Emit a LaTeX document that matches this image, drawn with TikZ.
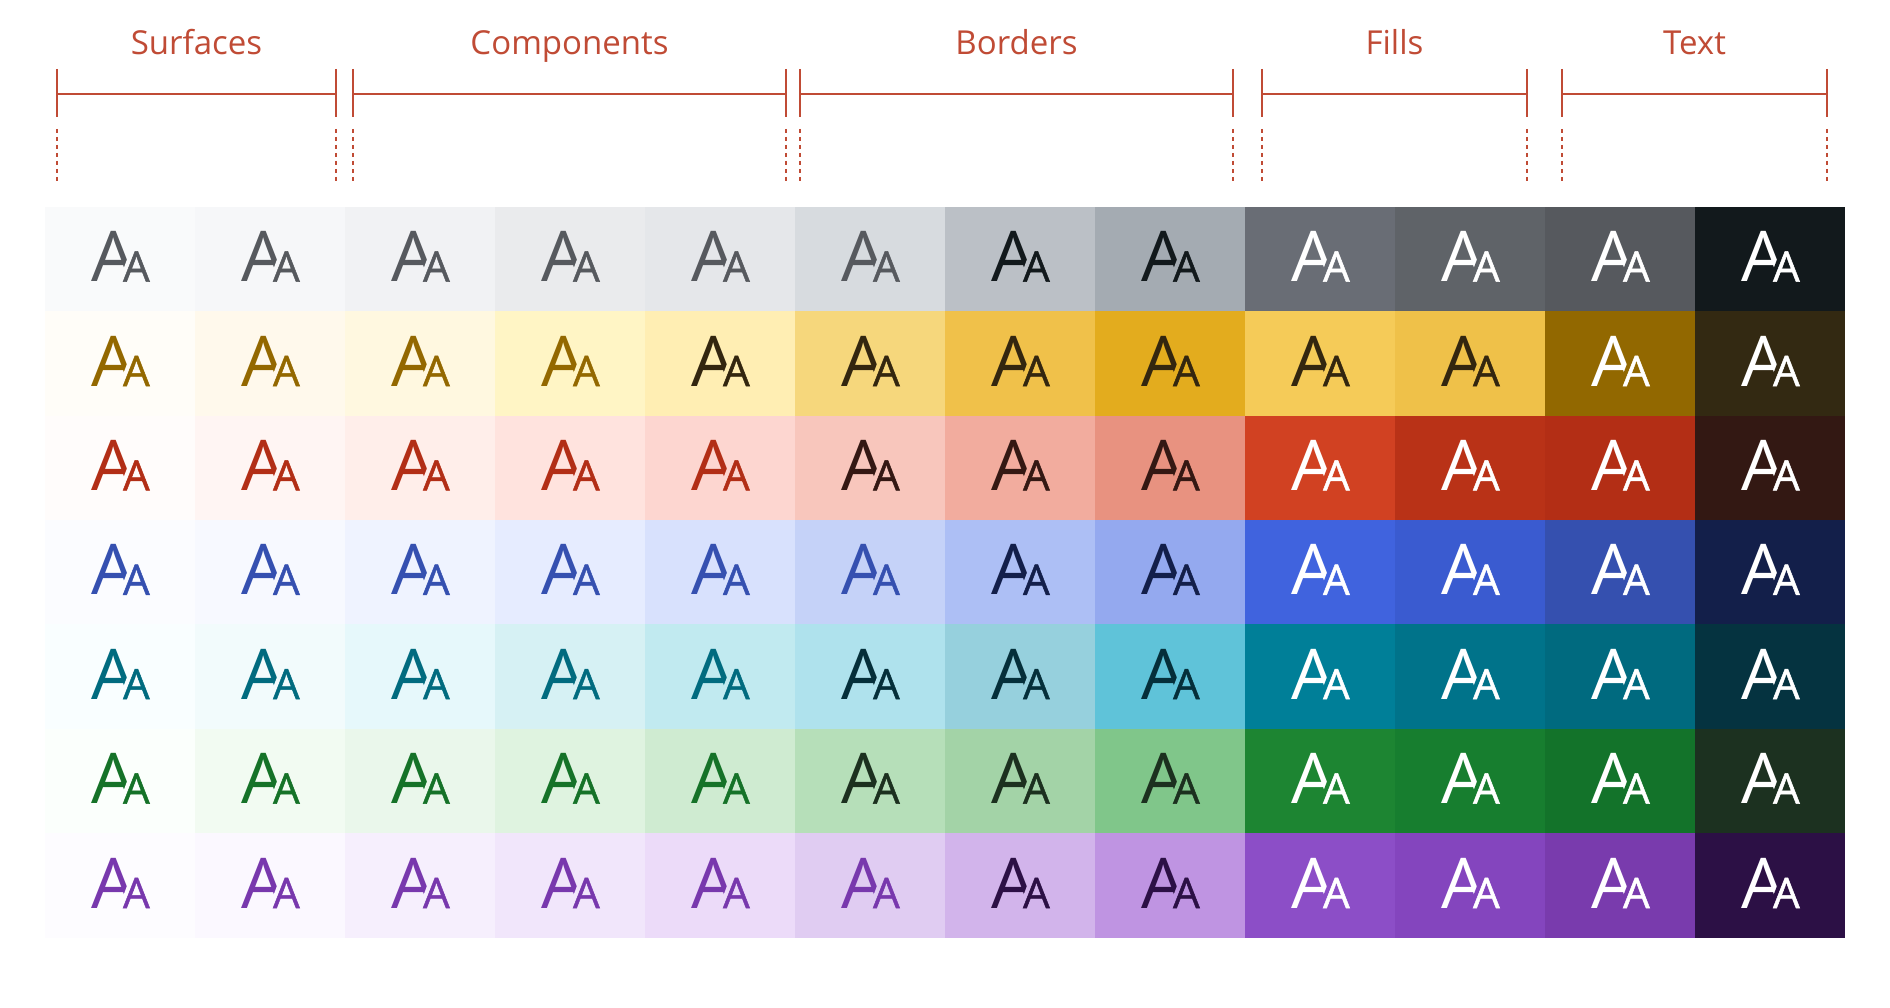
\documentclass[tikz,border=0pt]{standalone}
\usepackage{fontspec}
\setmainfont{Open Sans}
\newfontfamily\smallAfam[FakeBold=1.2]{Open Sans}
\usetikzlibrary{calc}
\newcommand\glyphbig{\fontsize{70}{70}\selectfont}
\newcommand\glyphsmall{\smallAfam\fontsize{42}{42}\selectfont}
\newcommand\labfont{\fontsize{33}{33}\selectfont}
% knock-out behind the small letter (drawn at the current text position)
\newcommand\knockout[1]{\tikz[overlay,baseline=0pt,x=1pt,y=1pt]\fill[#1] (-5.6,-3) -- (8.4,34) -- (35,34) -- (35,-3) -- cycle;}
\definecolor{lab}{HTML}{C04B35}
% row 1 gray
\definecolor{r1c1}{HTML}{F9FAFB}\definecolor{r1c2}{HTML}{F6F7F9}\definecolor{r1c3}{HTML}{F1F2F4}
\definecolor{r1c4}{HTML}{EAEBED}\definecolor{r1c5}{HTML}{E5E7EA}\definecolor{r1c6}{HTML}{D7DBDF}
\definecolor{r1c7}{HTML}{BBC0C6}\definecolor{r1c8}{HTML}{A4ABB2}\definecolor{r1c9}{HTML}{696D75}
\definecolor{r1c10}{HTML}{5F6368}\definecolor{r1c11}{HTML}{56595E}\definecolor{r1c12}{HTML}{12191C}
\definecolor{t1}{HTML}{56595E}\definecolor{d1}{HTML}{12191C}
% row 2 yellow
\definecolor{r2c1}{HTML}{FFFDF8}\definecolor{r2c2}{HTML}{FFF9EC}\definecolor{r2c3}{HTML}{FFF8E0}
\definecolor{r2c4}{HTML}{FFF5C5}\definecolor{r2c5}{HTML}{FFEEB3}\definecolor{r2c6}{HTML}{F6D77C}
\definecolor{r2c7}{HTML}{F0C14A}\definecolor{r2c8}{HTML}{E3AC1E}\definecolor{r2c9}{HTML}{F5CB58}
\definecolor{r2c10}{HTML}{EFC149}\definecolor{r2c11}{HTML}{926800}\definecolor{r2c12}{HTML}{332912}
\definecolor{t2}{HTML}{936800}\definecolor{d2}{HTML}{33260F}
% row 3 red
\definecolor{r3c1}{HTML}{FFFCFB}\definecolor{r3c2}{HTML}{FFF5F3}\definecolor{r3c3}{HTML}{FFEEEA}
\definecolor{r3c4}{HTML}{FFE3DE}\definecolor{r3c5}{HTML}{FDD6D0}\definecolor{r3c6}{HTML}{F8C6BC}
\definecolor{r3c7}{HTML}{F2AC9E}\definecolor{r3c8}{HTML}{E89280}\definecolor{r3c9}{HTML}{D14122}
\definecolor{r3c10}{HTML}{B93217}\definecolor{r3c11}{HTML}{B32E15}\definecolor{r3c12}{HTML}{331813}
\definecolor{t3}{HTML}{B22E16}\definecolor{d3}{HTML}{341813}
% row 4 blue
\definecolor{r4c1}{HTML}{FBFCFF}\definecolor{r4c2}{HTML}{F7F9FF}\definecolor{r4c3}{HTML}{EFF3FF}
\definecolor{r4c4}{HTML}{E6ECFF}\definecolor{r4c5}{HTML}{D8E1FD}\definecolor{r4c6}{HTML}{C5D2F8}
\definecolor{r4c7}{HTML}{ADBFF5}\definecolor{r4c8}{HTML}{94A9EF}\definecolor{r4c9}{HTML}{4063DE}
\definecolor{r4c10}{HTML}{3A5BD0}\definecolor{r4c11}{HTML}{3550AF}\definecolor{r4c12}{HTML}{131F4A}
\definecolor{t4}{HTML}{3550B0}\definecolor{d4}{HTML}{131F4A}
% row 5 teal
\definecolor{r5c1}{HTML}{F9FEFF}\definecolor{r5c2}{HTML}{F2FBFC}\definecolor{r5c3}{HTML}{E6F8FB}
\definecolor{r5c4}{HTML}{D6F1F4}\definecolor{r5c5}{HTML}{C1EAF0}\definecolor{r5c6}{HTML}{AFE2ED}
\definecolor{r5c7}{HTML}{96D0DD}\definecolor{r5c8}{HTML}{5FC3D9}\definecolor{r5c9}{HTML}{007F98}
\definecolor{r5c10}{HTML}{00738A}\definecolor{r5c11}{HTML}{006A7F}\definecolor{r5c12}{HTML}{053340}
\definecolor{t5}{HTML}{016B7F}\definecolor{d5}{HTML}{052F3A}
% row 6 green
\definecolor{r6c1}{HTML}{FBFFFC}\definecolor{r6c2}{HTML}{F2FBF2}\definecolor{r6c3}{HTML}{EAF7EB}
\definecolor{r6c4}{HTML}{DFF3E0}\definecolor{r6c5}{HTML}{CFEBD1}\definecolor{r6c6}{HTML}{B6DFB9}
\definecolor{r6c7}{HTML}{A3D3A7}\definecolor{r6c8}{HTML}{80C68A}\definecolor{r6c9}{HTML}{1D8532}
\definecolor{r6c10}{HTML}{177E2F}\definecolor{r6c11}{HTML}{13732A}\definecolor{r6c12}{HTML}{1C3120}
\definecolor{t6}{HTML}{157228}\definecolor{d6}{HTML}{1C301F}
% row 7 purple
\definecolor{r7c1}{HTML}{FDFCFF}\definecolor{r7c2}{HTML}{FBF8FF}\definecolor{r7c3}{HTML}{F6EFFD}
\definecolor{r7c4}{HTML}{F1E6FB}\definecolor{r7c5}{HTML}{ECDBF9}\definecolor{r7c6}{HTML}{E0CCF2}
\definecolor{r7c7}{HTML}{D2B4EB}\definecolor{r7c8}{HTML}{BF94E2}\definecolor{r7c9}{HTML}{8C4EC7}
\definecolor{r7c10}{HTML}{8445BE}\definecolor{r7c11}{HTML}{793BAD}\definecolor{r7c12}{HTML}{2C1045}
\definecolor{t7}{HTML}{7838AD}\definecolor{d7}{HTML}{2C1045}
\begin{document}
\begin{tikzpicture}[x=1pt,y=-1pt,
  cellbox/.style={rectangle,inner sep=0,minimum width=150.6,minimum height=105,draw=none},
  glyphpair/.style={anchor=base west,inner sep=0,font=\glyphbig},
  brk/.style={draw=lab,line width=2.5},
  brkdot/.style={draw=lab,line width=2.5,dash pattern=on 4 off 4},
  lbl/.style={anchor=base,inner sep=0,text=lab,font=\labfont}]
\useasboundingbox (0,0) rectangle (1890,1008);
\fill[white] (0,0) rectangle (1890,1008);
% brackets
\foreach \k/\xl/\xr/\txt in {s/57/336/Surfaces,c/353/786/Components,b/800/1233/Borders,f/1262/1527/Fills,t/1562/1827/Text}{
  \coordinate (br-\k-l) at (\xl,94);
  \coordinate (br-\k-r) at (\xr,94);
  \draw[brk] (br-\k-l) -- (br-\k-r);
  \draw[brk] ($(br-\k-l)+(0,-25)$) -- ($(br-\k-l)+(0,23)$);
  \draw[brk] ($(br-\k-r)+(0,-25)$) -- ($(br-\k-r)+(0,23)$);
  \draw[brkdot] ($(br-\k-l)+(0,35)$) -- ($(br-\k-l)+(0,88)$);
  \draw[brkdot] ($(br-\k-r)+(0,35)$) -- ($(br-\k-r)+(0,88)$);
  \node[lbl] (lab-\k) at ($(br-\k-l)!0.5!(br-\k-r)+(0,-39)$) {\txt};
}
% swatches
\foreach \r/\nt/\nd in {1/6/8,2/4/10,3/5/8,4/6/8,5/5/8,6/5/8,7/6/8}{
  \foreach \c in {1,...,12}{
    \ifnum\c>\nd\relax\def\tc{white}\else\ifnum\c>\nt\relax\def\tc{d\r}\else\def\tc{t\r}\fi\fi
    \node[cellbox,fill=r\r c\c] (cell-\r-\c) at ({45+150*(\c-0.5)},{207+104.4*(\r-0.5)}) {};
    \node[glyphpair,text=\tc] (aa-\r-\c) at ($(cell-\r-\c.center)+(-28.4,22.4)$)
      {A\kern-13pt\knockout{r\r c\c}{\glyphsmall A}};
  }
}
\end{tikzpicture}
\end{document}
